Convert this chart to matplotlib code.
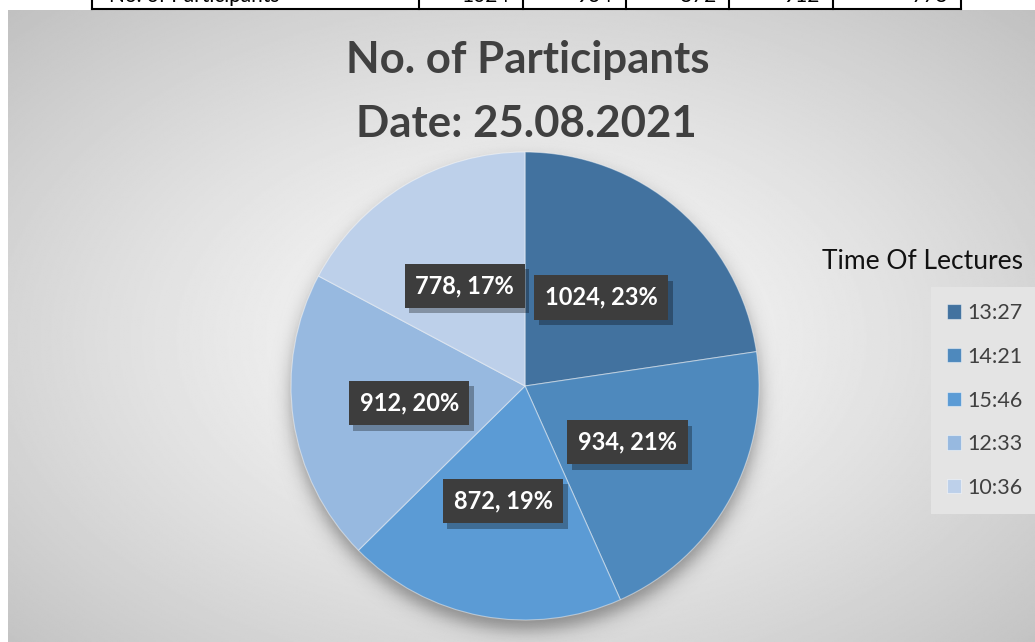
import numpy as np
import matplotlib
matplotlib.use("Agg")
import matplotlib.pyplot as plt
from matplotlib.lines import Line2D
import matplotlib.patheffects as pe

# data, clockwise from 12 o'clock
times = ["13:27", "14:21", "15:46", "12:33", "10:36"]
participants = [1024, 934, 872, 912, 778]
colors = ["#42729f", "#4e89bd", "#5b9bd5", "#97b9e0", "#bdd0ea"]

title_lines = ["No. of Participants", "Date: 25.08.2021"]
legend_title = "Time Of Lectures"
table_head = "No. of Participants"

W, H = 1035, 642
fig = plt.figure(figsize=(W / 100, H / 100), dpi=100)
fig.patch.set_facecolor("white")

# radial gradient background of the chart area
bg = fig.add_axes([8 / W, 0, (W - 8) / W, (H - 10) / H])
bg.set_axis_off()
yy, xx = np.mgrid[0:1:400j, 0:1:640j]
d = np.sqrt(((xx - 0.5) / 0.5) ** 2 + ((yy - 0.52) / 0.52) ** 2) / np.sqrt(2)
shade = 0.98 - 0.225 * np.clip(d, 0, 1) ** 1.3
bg.imshow(shade, cmap="gray", vmin=0, vmax=1, extent=[0, 1, 0, 1], aspect="auto", interpolation="bilinear")

# pie axes: radius 1 -> 234 px, centre at (525, 386) px
R_px, lim = 234, 1.3
side = 2 * lim * R_px
ax = fig.add_axes([(525 - side / 2) / W, (H - 386 - side / 2) / H, side / W, side / H])
ax.set_axis_off()
ax.patch.set_alpha(0)

# soft shadow below the pie
gy, gx = np.mgrid[-lim:lim:500j, -lim:lim:500j]
dist = np.sqrt(gx ** 2 + (gy + 0.045) ** 2)
alpha = 0.38 * 0.5 * (1 - np.tanh((dist - 1.0) / 0.045))
shadow = np.zeros(gx.shape + (4,))
shadow[..., 3] = alpha
ax.imshow(shadow, extent=[-lim, lim, -lim, lim], origin="lower", zorder=0)

total = sum(participants)
wedges, _, autotexts = ax.pie(
    participants, colors=colors, startangle=90, counterclock=False, radius=1,
    autopct="%1.0f%%", pctdistance=0.5,
    wedgeprops=dict(edgecolor=(1, 1, 1, 0.45), linewidth=0.8),
)
for t, v in zip(autotexts, participants):
    t.set_text(f"{v}, {round(100 * v / total)}%")
    t.set_fontfamily("Lato")
    t.set_fontweight("bold")
    t.set_fontsize(17)
    t.set_color("white")
    t.set_zorder(5)
    t.set_bbox(dict(boxstyle="square,pad=0.45", facecolor="#3d3d3d", edgecolor="none"))
    t.get_bbox_patch().set_path_effects([
        pe.SimplePatchShadow(offset=(3, -4), shadow_rgbFace="black", alpha=0.3),
        pe.Normal(),
    ])
ax.set_xlim(-lim, lim)
ax.set_ylim(-lim, lim)
ax.set_aspect("equal")

# title
fig.text(528 / W, 1 - 73 / H, title_lines[0], ha="center", va="baseline",
         fontsize=31.5, fontweight="bold", family="Lato", color="#404040")
fig.text(526 / W, 1 - 137 / H, title_lines[1], ha="center", va="baseline",
         fontsize=31.5, fontweight="bold", family="Lato", color="#404040")

# legend
fig.text(922 / W, 1 - 269 / H, legend_title, ha="center", va="baseline",
         fontsize=19, family="Lato", color="#111111")
leg = fig.legend(
    wedges, times, loc="upper left", bbox_to_anchor=(931 / W, 1 - 287 / H),
    borderaxespad=0, frameon=True, fancybox=False, facecolor="#e4e4e4", edgecolor="none",
    framealpha=1, prop=dict(family="Lato", size=15.5), labelcolor="#404040",
    handlelength=0.65, handleheight=0.65, handletextpad=0.3, labelspacing=1.1,
    borderpad=0.75,
)

# cut-off table row at the very top
top = fig.add_axes([0, 0, 1, 1])
top.set_xlim(0, W)
top.set_ylim(H, 0)
top.set_axis_off()
top.patch.set_alpha(0)
cell_edges = [92, 419, 523, 626, 729, 833, 961]
top.add_line(Line2D([cell_edges[0], cell_edges[-1]], [9, 9], color="black", lw=1.5))
for x in cell_edges:
    top.add_line(Line2D([x, x], [0, 9], color="black", lw=1.5))
top.text(cell_edges[0] + 17, 2.5, table_head, ha="left", va="baseline",
         fontsize=15, family="Lato", color="black")
for right, v in zip(cell_edges[2:], participants):
    top.text(right - 13, 2.5, str(v), ha="right", va="baseline",
             fontsize=15, family="Lato", color="black")

fig.savefig("out.png", dpi=100)
